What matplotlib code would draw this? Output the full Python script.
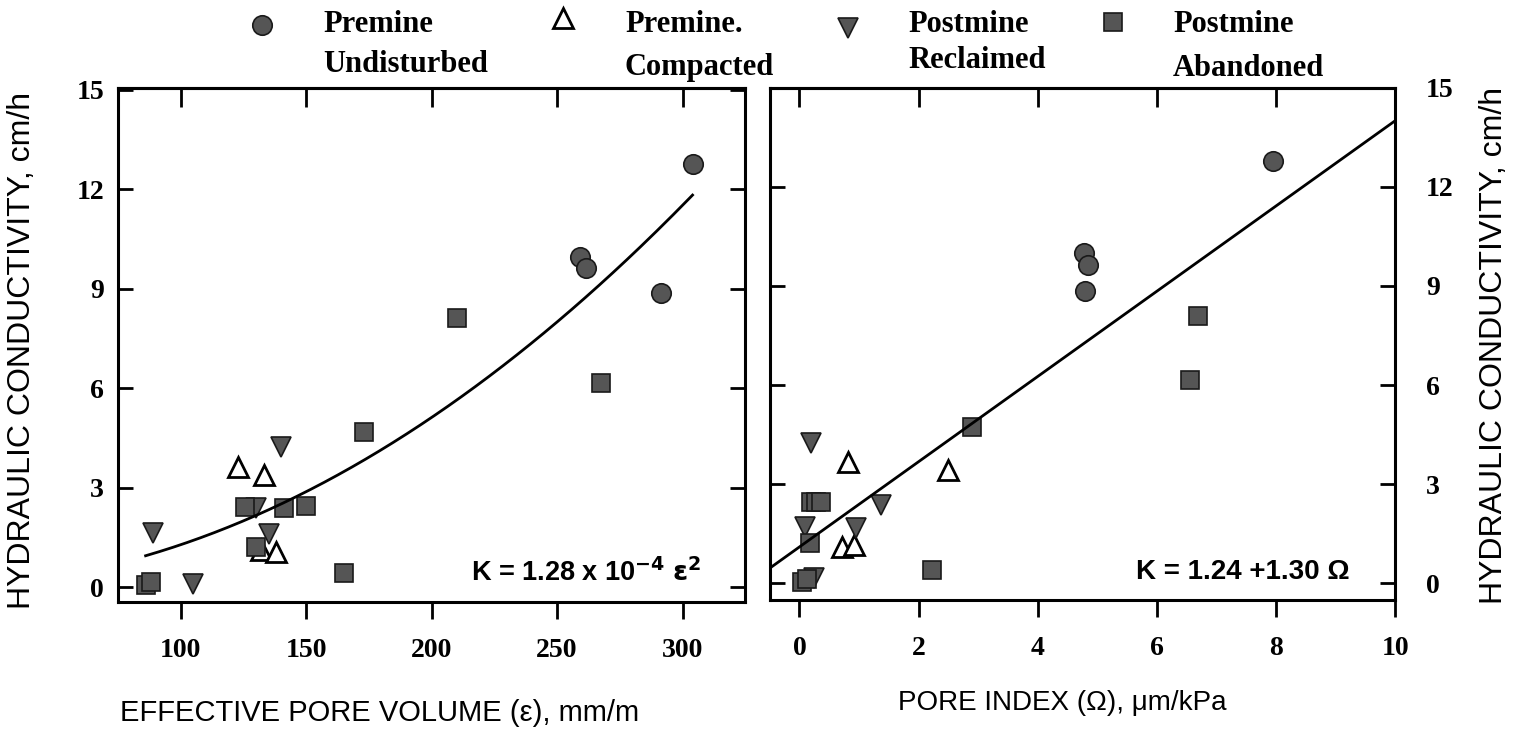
import matplotlib
matplotlib.use("Agg")
import matplotlib.pyplot as plt
from matplotlib.lines import Line2D
import numpy as np

# ---------------------------------------------------------------------------
# Data
# ---------------------------------------------------------------------------
# Left panel: effective pore volume (mm/m) vs hydraulic conductivity (cm/h)
undist_eps = [259, 261.5, 291.5, 304]
undist_k = [9.97, 9.64, 8.88, 12.78]
compact_eps = [123, 133, 132, 138]
compact_k = [3.62, 3.38, 1.12, 1.06]
reclaim_eps = [89, 105, 140, 130, 135]
reclaim_k = [1.63, 0.10, 4.23, 2.38, 1.60]
abandon_eps = [86, 88, 125.5, 141, 150, 130, 165, 173, 210, 267.5]
abandon_k = [0.05, 0.15, 2.42, 2.39, 2.45, 1.21, 0.42, 4.68, 8.13, 6.16]

# Right panel: pore index (um/kPa)
undist_om = [4.78, 4.85, 4.80, 7.95]
undist_k2 = [10.0, 9.64, 8.85, 12.79]
compact_om = [0.82, 2.50, 0.72, 0.92]
compact_k2 = [3.67, 3.42, 1.09, 1.15]
reclaim_om = [0.20, 1.37, 0.10, 0.95, 0.25]
reclaim_k2 = [4.24, 2.36, 1.70, 1.67, 0.15]
abandon_om = [0.05, 0.12, 0.20, 0.28, 0.37, 0.18, 2.23, 2.90, 6.69, 6.56]
abandon_k2 = [0.05, 0.12, 2.45, 2.45, 2.45, 1.21, 0.39, 4.73, 8.10, 6.15]

# Fits
coef_eps = 1.28e-4          # K = c * eps^2
eps_range = (86, 304)
lin_icpt, lin_slope = 1.10, 1.29   # line as drawn
om_range = (-0.5, 10)

series = [
    ("Premine", "Undisturbed", "o"),
    ("Premine.", "Compacted", "^"),
    ("Postmine", "Reclaimed", "v"),
    ("Postmine", "Abandoned", "s"),
]

# ---------------------------------------------------------------------------
# Style
# ---------------------------------------------------------------------------
SERIF = ["Liberation Serif", "DejaVu Serif"]
SANS = ["Liberation Sans", "DejaVu Sans"]
FILL = "#555555"
EDGE = "#1a1a1a"

marker_style = {
    "o": dict(marker="o", ms=14, mfc=FILL, mec=EDGE, mew=1.2),
    "^": dict(marker="^", ms=15, mfc="white", mec="black", mew=2.0),
    "v": dict(marker="v", ms=15, mfc=FILL, mec=EDGE, mew=1.2),
    "s": dict(marker="s", ms=13, mfc=FILL, mec=EDGE, mew=1.2),
}

fig = plt.figure(figsize=(15.15, 7.36), dpi=100)
fig.patch.set_facecolor("white")

ax1 = fig.add_axes([0.0779, 0.182, 0.414, 0.698])
ax2 = fig.add_axes([0.508, 0.185, 0.413, 0.696])


def style_axes(ax, ylabel_side):
    for sp in ax.spines.values():
        sp.set_linewidth(2.2)
    ax.tick_params(axis="x", direction="out", length=12, width=2,
                   pad=14, labelsize=20)
    ax.tick_params(axis="y", direction="in", length=11, width=2,
                   left=True, right=True, labelsize=20,
                   pad=10 if ylabel_side == "left" else 22,
                   labelleft=(ylabel_side == "left"),
                   labelright=(ylabel_side == "right"))
    for lab in ax.get_xticklabels() + ax.get_yticklabels():
        lab.set_fontfamily(SERIF)
        lab.set_fontweight("bold")
    top = ax.secondary_xaxis("top")
    top.set_xticks(ax.get_xticks())
    top.tick_params(direction="in", length=14, width=2, labeltop=False)
    top.spines["top"].set_linewidth(2.2)


# Left panel
ax1.plot(undist_eps, undist_k, ls="none", **marker_style["o"])
ax1.plot(compact_eps, compact_k, ls="none", **marker_style["^"])
ax1.plot(reclaim_eps, reclaim_k, ls="none", **marker_style["v"])
ax1.plot(abandon_eps, abandon_k, ls="none", **marker_style["s"])
e = np.linspace(*eps_range, 200)
ax1.plot(e, coef_eps * e ** 2, color="black", lw=2)
ax1.set_xlim(75, 325)
ax1.set_ylim(-0.45, 15.05)
ax1.set_xticks([100, 150, 200, 250, 300])
ax1.set_yticks([0, 3, 6, 9, 12, 15])
style_axes(ax1, "left")
ax1.text(0.93, 0.058, r"K = 1.28 x 10$^{\mathbf{-4}}$ $\mathbf{\varepsilon}^{\mathbf{2}}$",
         transform=ax1.transAxes, ha="right", va="center", fontsize=19.5,
         fontweight="bold", family=SANS)

# Right panel
ax2.plot(undist_om, undist_k2, ls="none", **marker_style["o"])
ax2.plot(compact_om, compact_k2, ls="none", **marker_style["^"])
ax2.plot(reclaim_om, reclaim_k2, ls="none", **marker_style["v"])
ax2.plot(abandon_om, abandon_k2, ls="none", **marker_style["s"])
o = np.array(om_range)
ax2.plot(o, lin_icpt + lin_slope * o, color="black", lw=2)
ax2.set_xlim(-0.5, 10)
ax2.set_ylim(-0.5, 15.0)
ax2.set_xticks([0, 2, 4, 6, 8, 10])
ax2.set_yticks([0, 3, 6, 9, 12, 15])
style_axes(ax2, "right")
ax2.text(0.927, 0.055, "K = 1.24 +1.30 \u03a9",
         transform=ax2.transAxes, ha="right", va="center", fontsize=20,
         fontweight="bold", family=SANS)

# Axis labels
fig.text(22 / 1515, 1 - 350 / 736, "HYDRAULIC CONDUCTIVITY, cm/h", rotation=90,
         ha="center", va="center", fontsize=23, family=SANS)
fig.text(1494 / 1515, 1 - 345 / 736, "HYDRAULIC CONDUCTIVITY, cm/h", rotation=90,
         ha="center", va="center", fontsize=23, family=SANS)
fig.text(380 / 1515, 1 - 713 / 736, "EFFECTIVE PORE VOLUME (\u03b5), mm/m",
         ha="center", va="center", fontsize=21, family=SANS)
fig.text(1062 / 1515, 1 - 703 / 736, "PORE INDEX (\u03a9), \u03bcm/kPa",
         ha="center", va="center", fontsize=20, family=SANS)

# Legend across the top
leg_marker_x = [262, 563, 848, 1113]
leg_marker_y = [25, 18, 28, 22]
leg_text_x = [323, 625, 908, 1173]
leg_line2_y = [65, 68, 60, 68]
for (l1, l2, mk), mx, my, tx, y2 in zip(series, leg_marker_x, leg_marker_y,
                                         leg_text_x, leg_line2_y):
    fig.add_artist(Line2D([mx / 1515], [1 - my / 736], transform=fig.transFigure,
                          ls="none", **marker_style[mk]))
    fig.text(tx / 1515, 1 - 25 / 736, l1, ha="left", va="center",
             fontsize=22, fontweight="bold", family=SERIF)
    fig.text(tx / 1515, 1 - y2 / 736, l2, ha="left", va="center",
             fontsize=22, fontweight="bold", family=SERIF)

fig.savefig("out.png", dpi=100, facecolor="white")
